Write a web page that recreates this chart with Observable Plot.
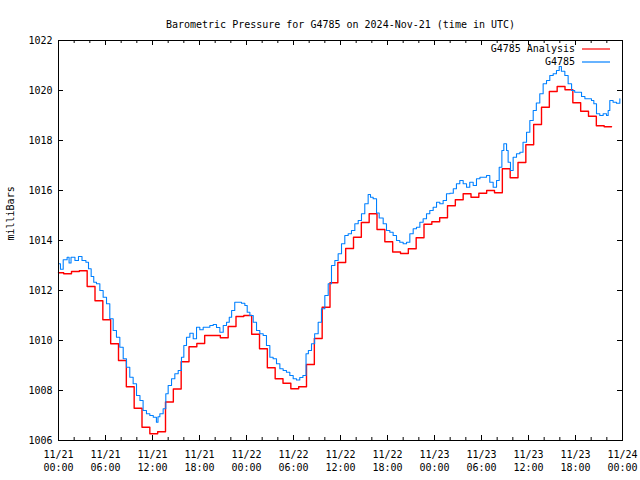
<!DOCTYPE html>
<html><head><meta charset="utf-8">
<script src="https://cdn.jsdelivr.net/npm/d3@7"></script>
<script src="https://cdn.jsdelivr.net/npm/@observablehq/plot@0.6"></script>
<style>body{margin:0;background:#fff}#chart{width:640px;height:480px}</style>
</head><body><div id="chart"></div>
<script>
const title = "Barometric Pressure for G4785 on 2024-Nov-21 (time in UTC)";
const yLabel = "milliBars";
const seriesNames = ["G4785 Analysis", "G4785"];
const seriesColors = ["#ff0000", "#0080ff"];

// x in hours since 2024-11-21 00:00 UTC
const xTicks = [0, 6, 12, 18, 24, 30, 36, 42, 48, 54, 60, 66, 72];
const xTickLabels = ["11/21\n00:00", "11/21\n06:00", "11/21\n12:00", "11/21\n18:00",
  "11/22\n00:00", "11/22\n06:00", "11/22\n12:00", "11/22\n18:00",
  "11/23\n00:00", "11/23\n06:00", "11/23\n12:00", "11/23\n18:00", "11/24\n00:00"];
const xMinorTicks = [2, 4, 8, 10, 14, 16, 20, 22, 26, 28, 32, 34, 38, 40, 44, 46, 50, 52, 56, 58, 62, 64, 68, 70];
const yTicks = [1006, 1008, 1010, 1012, 1014, 1016, 1018, 1020, 1022];
const yTickLabels = ["1006", "1008", "1010", "1012", "1014", "1016", "1018", "1020", "1022"];

// G4785 Analysis (hourly, step)
const analysisHours = [0, 0.66, 1.66, 2.66, 3.66, 4.66, 5.66, 6.66, 7.66, 8.66, 9.66, 10.66, 11.66, 12.66,
  13.66, 14.66, 15.66, 16.66, 17.66, 18.66, 19.66, 20.66, 21.66, 22.66, 23.66, 24.66, 25.66, 26.66,
  27.66, 28.66, 29.66, 30.66, 31.66, 32.66, 33.66, 34.66, 35.66, 36.66, 37.66, 38.66, 39.66, 40.66,
  41.66, 42.66, 43.66, 44.66, 45.66, 46.66, 47.66, 48.66, 49.66, 50.66, 51.66, 52.66, 53.66, 54.66,
  55.66, 56.66, 57.66, 58.66, 59.66, 60.66, 61.66, 62.66, 63.66, 64.66, 65.66, 66.66, 67.66, 68.66,
  69.66, 70.6];
const analysisValues = [1012.71, 1012.67, 1012.76, 1012.79, 1012.16, 1011.59, 1010.83, 1009.87, 1009.20,
  1008.15, 1007.29, 1006.53, 1006.27, 1006.35, 1007.54, 1008.06, 1009.15, 1009.75, 1009.88, 1010.20,
  1010.20, 1010.11, 1010.56, 1010.96, 1011.00, 1010.25, 1009.67, 1008.91, 1008.47, 1008.29, 1008.07,
  1008.15, 1009.04, 1010.08, 1011.33, 1012.31, 1013.12, 1013.68, 1014.13, 1014.72, 1015.07, 1014.44,
  1013.95, 1013.54, 1013.48, 1013.67, 1014.11, 1014.65, 1014.75, 1014.91, 1015.39, 1015.63, 1015.87,
  1015.73, 1015.89, 1016.00, 1015.91, 1016.87, 1016.51, 1017.12, 1017.83, 1018.64, 1019.33, 1019.96,
  1020.16, 1020.03, 1019.51, 1019.17, 1018.97, 1018.59, 1018.55, 1018.55];

// G4785 observations
const stationHours = [0, 0.25, 0.6, 1.1, 1.35, 1.6, 2.1, 2.55, 3.0, 3.5, 3.83, 4.17, 4.5, 4.85, 5.28, 5.7,
  6.13, 6.55, 6.98, 7.4, 7.83, 8.26, 8.68, 9.1, 9.53, 9.96, 10.4, 10.8, 11.23, 11.66, 12.1, 12.5, 12.7,
  12.94, 13.36, 13.7, 14.0, 14.43, 14.85, 15.28, 15.7, 16.0, 16.34, 16.77, 17.2, 17.62, 18.04, 18.47,
  18.9, 19.32, 19.75, 20.17, 20.6, 21.03, 21.45, 21.8, 22.1, 22.5, 22.94, 23.36, 23.79, 24.09, 24.43,
  24.86, 25.28, 25.7, 26.13, 26.55, 26.98, 27.4, 27.83, 28.26, 28.68, 29.1, 29.53, 29.96, 30.38, 30.8,
  31.2, 31.6, 31.9, 32.3, 32.7, 33.15, 33.57, 34.0, 34.43, 34.85, 35.28, 35.7, 36.13, 36.55, 36.98,
  37.4, 37.83, 38.26, 38.68, 39.1, 39.53, 39.83, 40.17, 40.6, 40.94, 41.45, 41.87, 42.3, 42.72, 43.15,
  43.57, 44.0, 44.43, 44.85, 45.28, 45.7, 46.13, 46.55, 46.98, 47.4, 47.83, 48.26, 48.68, 49.1, 49.53,
  49.96, 50.4, 50.8, 51.23, 51.66, 52.09, 52.5, 52.94, 53.36, 53.8, 54.2, 54.64, 55.06, 55.49, 55.92,
  56.26, 56.6, 56.85, 57.2, 57.4, 57.7, 58.04, 58.47, 58.9, 59.3, 59.75, 60.17, 60.6, 61.0, 61.44,
  61.87, 62.3, 62.72, 63.15, 63.57, 63.92, 64.2, 64.64, 65.06, 65.5, 65.9, 66.34, 66.77, 67.2, 67.62,
  68.04, 68.34, 68.68, 69.1, 69.53, 69.96, 70.17, 70.38, 70.8, 71.23, 71.66];
const stationValues = [1013.07, 1012.85, 1013.23, 1013.33, 1013.10, 1013.33, 1013.20, 1013.36, 1013.20,
  1013.13, 1012.87, 1012.56, 1012.33, 1012.27, 1012.00, 1011.73, 1011.47, 1010.87, 1010.40, 1010.13,
  1009.73, 1009.27, 1008.93, 1008.53, 1008.27, 1007.80, 1007.60, 1007.20, 1007.07, 1007.00, 1006.93,
  1006.73, 1006.95, 1007.07, 1007.27, 1007.87, 1008.20, 1008.47, 1008.67, 1008.80, 1009.33, 1009.80,
  1010.13, 1010.29, 1010.07, 1010.53, 1010.43, 1010.53, 1010.53, 1010.60, 1010.64, 1010.52, 1010.33,
  1010.60, 1010.73, 1010.93, 1011.20, 1011.53, 1011.53, 1011.49, 1011.40, 1011.13, 1011.00, 1010.73,
  1010.40, 1010.27, 1010.20, 1009.80, 1009.33, 1009.27, 1009.07, 1008.87, 1008.80, 1008.73, 1008.60,
  1008.47, 1008.42, 1008.52, 1008.60, 1009.47, 1009.60, 1009.87, 1010.27, 1010.73, 1011.27, 1011.80,
  1012.27, 1013.00, 1013.20, 1013.47, 1013.87, 1014.20, 1014.27, 1014.40, 1014.67, 1014.80, 1015.07,
  1015.47, 1015.84, 1015.73, 1015.67, 1015.10, 1014.90, 1014.67, 1014.40, 1014.33, 1014.20, 1014.00,
  1013.93, 1013.87, 1013.93, 1014.27, 1014.47, 1014.53, 1014.73, 1014.87, 1015.07, 1015.20, 1015.33,
  1015.53, 1015.47, 1015.60, 1015.87, 1015.89, 1016.07, 1016.27, 1016.40, 1016.27, 1016.13, 1016.33,
  1016.20, 1016.47, 1016.53, 1016.53, 1016.60, 1016.33, 1016.13, 1016.40, 1016.93, 1017.60, 1017.87,
  1017.60, 1017.13, 1016.80, 1017.33, 1017.47, 1017.53, 1017.93, 1018.33, 1018.80, 1019.20, 1019.50,
  1019.87, 1020.27, 1020.40, 1020.60, 1020.67, 1020.80, 1020.96, 1020.77, 1020.60, 1020.27, 1020.00,
  1019.93, 1019.93, 1019.76, 1019.67, 1019.67, 1019.60, 1019.47, 1019.07, 1019.00, 1019.07, 1019.00,
  1019.20, 1019.60, 1019.53, 1019.49, 1019.67];

const analysis = analysisHours.map((h, i) => ({h, v: analysisValues[i]}));
const station = stationHours.map((h, i) => ({h, v: stationValues[i]}));

const W = 640, H = 480, mt = 40, mr = 18, mb = 40, ml = 58;
const ih = H - mt - mb, iw = W - ml - mr;
const font = "'DejaVu Sans Mono', 'Liberation Mono', monospace";

const chart = Plot.plot({
  width: W, height: H,
  marginTop: mt, marginRight: mr, marginBottom: mb, marginLeft: ml,
  style: {fontFamily: font, fontSize: "10px", color: "black", background: "white"},
  x: {domain: [0, 72]},
  y: {domain: [1006, 1022]},
  marks: [
    Plot.line(analysis, {x: "h", y: "v", curve: "step-after", stroke: seriesColors[0], strokeWidth: 1.4}),
    Plot.line(station, {x: "h", y: "v", curve: "step-after", stroke: seriesColors[1], strokeWidth: 1.1}),
    Plot.frame({stroke: "black"}),
    // inward ticks: bottom & top, major and minor
    Plot.tickX(xTicks, {x: d => d, insetTop: ih - 5, stroke: "black"}),
    Plot.tickX(xTicks, {x: d => d, insetBottom: ih - 5, stroke: "black"}),
    Plot.tickX(xMinorTicks, {x: d => d, insetTop: ih - 3, stroke: "black"}),
    Plot.tickX(xMinorTicks, {x: d => d, insetBottom: ih - 3, stroke: "black"}),
    Plot.tickY(yTicks, {y: d => d, insetRight: iw - 5, stroke: "black"}),
    Plot.tickY(yTicks, {y: d => d, insetLeft: iw - 5, stroke: "black"}),
    Plot.axisX({ticks: xTicks, tickSize: 0, tickPadding: 8, lineHeight: 1.3,
      tickFormat: d => xTickLabels[xTicks.indexOf(d)], label: null, fontSize: 10}),
    Plot.axisY({ticks: yTicks, tickSize: 0, tickPadding: 6, label: null, fontSize: 10,
      tickFormat: d => yTickLabels[yTicks.indexOf(d)]}),
    Plot.text([title], {frameAnchor: "top", dy: -20, fontSize: 10}),
    Plot.text([yLabel], {frameAnchor: "left", dx: -48, rotate: -90, fontSize: 10})
  ]
});
document.getElementById("chart").appendChild(chart);

// legend (top right, inside plot)
const svg = d3.select(chart);
const lg = svg.append("g").attr("font-family", font).attr("font-size", 10);
seriesNames.forEach((name, i) => {
  const y = 49 + i * 13;
  lg.append("text").attr("x", 575).attr("y", y).attr("dy", "0.32em")
    .attr("text-anchor", "end").attr("fill", "black").text(name);
  lg.append("line").attr("x1", 582).attr("x2", 610).attr("y1", y).attr("y2", y)
    .attr("stroke", seriesColors[i]).attr("stroke-width", 1.2);
});
</script>
</body></html>
